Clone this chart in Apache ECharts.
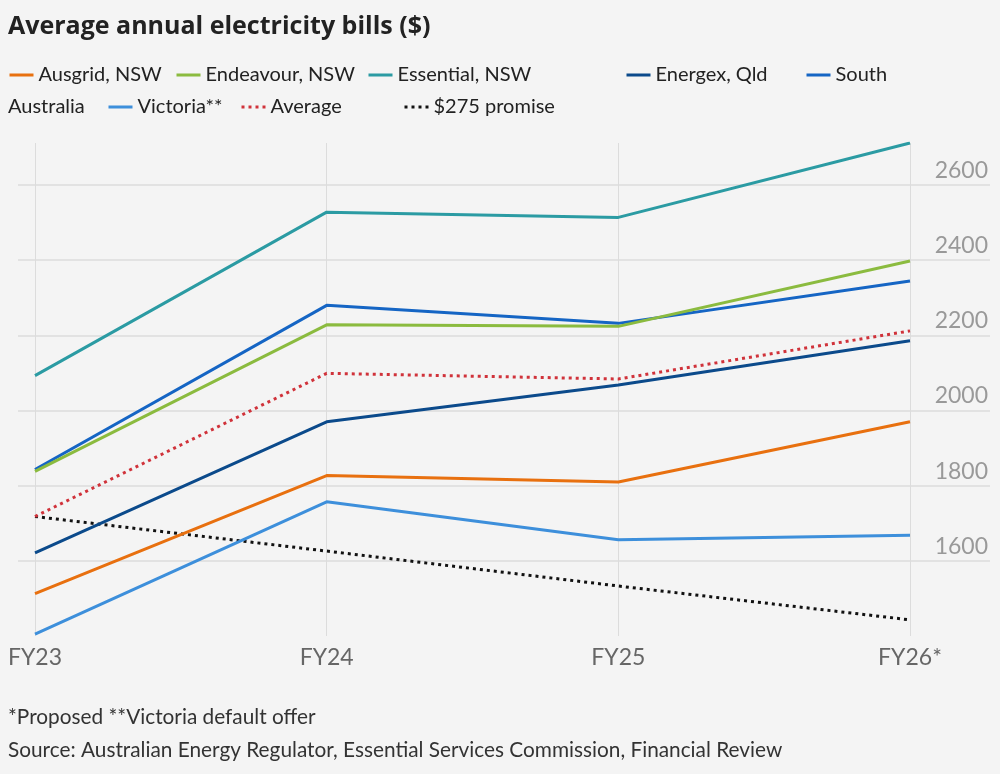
<!DOCTYPE html>
<html>
<head>
<meta charset="utf-8">
<script src="https://cdn.jsdelivr.net/npm/echarts@6/dist/echarts.min.js"></script>
<style>
html,body{margin:0;padding:0;background:#f4f4f4;}
#chart{width:1000px;height:774px;}
</style>
</head>
<body>
<div id="chart"></div>
<script>
const categories = ['FY23', 'FY24', 'FY25', 'FY26*'];
const yTicks = [1600, 1800, 2000, 2200, 2400, 2600];

const ausgrid   = [1513, 1827, 1810, 1970];
const endeavour = [1838, 2228, 2224, 2398];
const essential = [2093, 2528, 2514, 2712];
const energex   = [1621, 1970, 2068, 2186];
const southAus  = [1843, 2280, 2232, 2345];
const victoria  = [1405, 1757, 1656, 1668];
const average   = [1718, 2099, 2084, 2212];
const promise   = [1718, 1626, 1533, 1443];

const seriesNames = ['Ausgrid, NSW', 'Endeavour, NSW', 'Essential, NSW', 'Energex, Qld', 'South Australia', 'Victoria**', 'Average', '$275 promise'];
const seriesData = [ausgrid, endeavour, essential, energex, southAus, victoria, average, promise];
const colors = ['#e8700f', '#8bbb3f', '#2b9ba3', '#0b4a8b', '#1565c4', '#3d8fdb', '#d0323a', '#111111'];
const dotted = [false, false, false, false, false, false, true, true];

const FONT = 'Lato';
const chart = echarts.init(document.getElementById('chart'), null, {renderer: 'canvas'});

const legendPos = [
  {left: 8, top: 65}, {left: 175, top: 65}, {left: 367, top: 65}, {left: 625, top: 65}, {left: 805, top: 65},
  {left: 107, top: 97}, {left: 240, top: 97}, {left: 403, top: 97}
];

const legends = seriesNames.map((n, i) => ({
  data: [n],
  left: legendPos[i].left,
  top: legendPos[i].top,
  padding: 0,
  itemWidth: 24,
  itemHeight: 14,
  itemGap: 0,
  selectedMode: false,
  itemStyle: {opacity: 0},
  lineStyle: {width: 3},
  formatter: n === 'South Australia' ? () => 'South' : undefined,
  textStyle: {fontFamily: FONT, fontSize: 20, color: '#222', lineHeight: 20, padding: [0, 0, 0, 0]}
}));

const option = {
  backgroundColor: '#f4f4f4',
  animation: false,
  title: {
    text: 'Average annual electricity bills ($)',
    left: 8, top: 14, padding: 0,
    textStyle: {fontFamily: 'Open Sans', fontSize: 25, fontWeight: 'bold', color: '#222'}
  },
  legend: legends,
  graphic: [
    {type: 'text', left: 8, top: 97, style: {text: 'Australia', fontFamily: FONT, fontSize: 20, fill: '#222', lineHeight: 20}},
    {type: 'text', left: 8, top: 707, style: {text: '*Proposed **Victoria default offer', fontFamily: FONT, fontSize: 20.8, fill: '#333'}},
    {type: 'text', left: 8, top: 740, style: {text: 'Source: Australian Energy Regulator, Essential Services Commission, Financial Review', fontFamily: FONT, fontSize: 20.8, fill: '#333'}}
  ],
  grid: [
    {left: 35, right: 90, top: 143, bottom: 138},
    {left: 18, right: 10, top: 143, bottom: 138}
  ],
  xAxis: [
    {
      type: 'category', gridIndex: 0, data: categories, boundaryGap: false,
      axisLine: {show: false}, axisTick: {show: false},
      splitLine: {show: true, lineStyle: {color: '#dcdcdc', width: 1}},
      axisLabel: {fontFamily: FONT, fontSize: 23, color: '#666', margin: 10}
    },
    {type: 'value', gridIndex: 1, show: false, min: 0, max: 1}
  ],
  yAxis: [
    {type: 'value', gridIndex: 0, min: 1400, max: 2712, show: false},
    {
      type: 'value', gridIndex: 1, position: 'right', min: 1400, max: 2712, interval: 200,
      axisLine: {show: false}, axisTick: {show: false},
      splitLine: {show: true, showMinLine: false, showMaxLine: false, lineStyle: {color: '#dcdcdc', width: 1.5}},
      axisLabel: {
        inside: true, showMinLabel: false, showMaxLabel: false, verticalAlign: 'bottom',
        fontFamily: FONT, fontSize: 23, color: '#999', margin: 2, padding: [0, 0, 3, 0],
        formatter: v => (yTicks.indexOf(v) >= 0 ? String(v) : '')
      }
    }
  ],
  series: seriesNames.map((n, i) => ({
    name: n,
    type: 'line',
    xAxisIndex: 0, yAxisIndex: 0,
    data: seriesData[i],
    symbol: 'none',
    silent: true,
    color: colors[i],
    lineStyle: {color: colors[i], width: 3, type: dotted[i] ? [3, 4] : 'solid'},
    z: 10 - i
  }))
};
chart.setOption(option);
</script>
</body>
</html>
